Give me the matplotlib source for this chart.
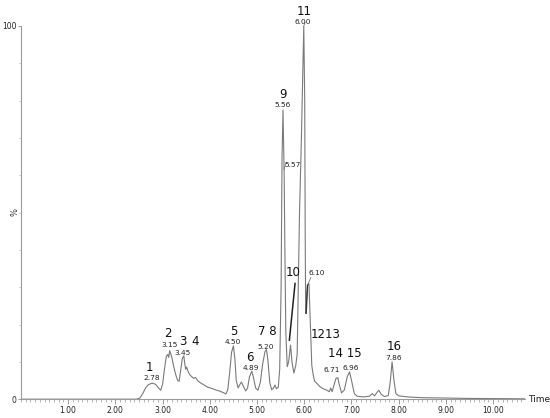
import matplotlib
matplotlib.use("Agg")
import matplotlib.pyplot as plt
from matplotlib.ticker import MultipleLocator, FixedLocator

# Chromatogram trace (time in min, relative intensity %)
trace_time = [0.00, 2.45, 2.52, 2.58, 2.64, 2.70, 2.78, 2.85, 2.90, 2.96,
              3.00, 3.04, 3.08, 3.11, 3.13, 3.15, 3.17, 3.20, 3.24, 3.28,
              3.32, 3.35, 3.38, 3.42, 3.45, 3.47, 3.49, 3.51, 3.54, 3.58,
              3.62, 3.66, 3.70, 3.74, 3.80, 3.88, 3.96, 4.04, 4.12, 4.20,
              4.28, 4.34, 4.38, 4.42, 4.46, 4.50, 4.53, 4.56, 4.60, 4.64,
              4.67, 4.71, 4.76, 4.80, 4.84, 4.89, 4.93, 4.97, 5.02, 5.07,
              5.12, 5.17, 5.20, 5.23, 5.27, 5.31, 5.35, 5.38, 5.41, 5.45,
              5.48, 5.51, 5.53, 5.55, 5.56, 5.57, 5.575, 5.59, 5.61, 5.64,
              5.67, 5.71, 5.74, 5.78, 5.82, 5.85, 5.90, 5.94, 5.99, 6.01,
              6.02, 6.03, 6.07, 6.10, 6.13, 6.16, 6.19, 6.22, 6.27, 6.33,
              6.40, 6.48, 6.53, 6.56, 6.59, 6.63, 6.67, 6.71, 6.74, 6.79,
              6.85, 6.91, 6.96, 7.01, 7.06, 7.12, 7.25, 7.38, 7.44, 7.49,
              7.54, 7.58, 7.63, 7.70, 7.78, 7.82, 7.86, 7.90, 7.94, 8.00,
              8.20, 8.50, 9.00, 9.50, 10.68]
trace_pct = [0.0, 0.0, 0.3, 1.5, 3.0, 3.9, 4.3, 4.0, 3.2, 2.4,
             4.0, 8.0, 11.5, 12.0, 11.2, 13.0, 12.3, 11.0, 8.5, 6.5,
             5.0, 4.8, 7.5, 11.0, 11.6, 9.5, 8.0, 8.6, 7.4, 6.5,
             6.0, 5.6, 5.8, 5.0, 4.4, 3.8, 3.2, 2.9, 2.5, 2.2,
             1.8, 1.4, 2.5, 7.0, 12.5, 14.3, 11.0, 5.0, 3.0, 4.0,
             4.6, 3.5, 2.2, 3.0, 6.0, 7.5, 5.5, 3.0, 2.4, 4.5,
             9.5, 12.8, 13.3, 10.5, 4.5, 2.5, 3.0, 3.8, 2.8, 3.2,
             8.0, 30.0, 65.0, 77.5, 70.0, 61.5, 60.0, 40.0, 18.0, 8.7,
             10.0, 14.5, 10.0, 7.0, 9.0, 12.0, 50.0, 70.0, 100.0, 80.0,
             45.0, 23.0, 30.6, 31.0, 20.0, 9.0, 6.5, 4.8, 4.2, 3.4,
             2.8, 2.4, 2.0, 3.0, 2.0, 3.8, 5.5, 5.8, 4.0, 1.7,
             2.5, 6.0, 7.3, 4.5, 1.5, 0.8, 0.6, 0.8, 1.5, 0.9,
             1.8, 2.4, 1.3, 0.7, 1.0, 4.5, 10.0, 5.0, 1.5, 0.9,
             0.6, 0.4, 0.3, 0.2, 0.1]

# Peak number labels (text, x, y)
peak_names = ["1", "2", "3", "4", "5", "6", "7 8", "9", "11", "10", "1213", "14 15", "16"]
peak_name_x = [2.73, 3.11, 3.43, 3.69, 4.51, 4.85, 5.21, 5.55, 6.00, 5.76, 6.46, 6.85, 7.90]
peak_name_y = [8.6, 17.7, 15.5, 15.5, 18.2, 11.3, 18.2, 81.5, 103.8, 34.0, 17.2, 12.2, 14.0]

# Retention time labels
rt_labels = ["2.78", "3.15", "3.45", "4.50", "4.89", "5.20", "5.56", "5.57", "6.00", "6.10", "6.71", "6.96", "7.86"]
rt_x = [2.78, 3.14, 3.43, 4.49, 4.87, 5.19, 5.55, 5.76, 5.97, 6.27, 6.58, 6.99, 7.90]
rt_y = [5.6, 14.5, 12.3, 15.3, 8.3, 13.9, 78.8, 62.7, 101.1, 33.8, 7.8, 8.4, 11.1]

x_ticks = [1, 2, 3, 4, 5, 6, 7, 8, 9, 10]
x_tick_labels = ["1.00", "2.00", "3.00", "4.00", "5.00", "6.00", "7.00", "8.00", "9.00", "10.00"]

fig = plt.figure(figsize=(5.5, 4.18), dpi=100)
ax = fig.add_axes([0.038, 0.045, 0.917, 0.893])

line_col = "#7a7a7a"
ax.plot(trace_time, trace_pct, color=line_col, lw=0.8)

# darker annotation strokes
ax.plot([5.805, 5.685], [31.0, 15.8], color="#222222", lw=1.1)
ax.plot([6.04, 6.07], [23.0, 30.6], color="#333333", lw=1.0)
ax.plot([6.07, 6.14], [30.6, 32.6], color="#666666", lw=0.5)
ax.plot([5.57, 5.62], [61.5, 63.5], color="#666666", lw=0.5)
ax.plot([5.99, 6.02], [100, 101.0], color="#666666", lw=0.5, clip_on=False)

for t, x, y in zip(peak_names, peak_name_x, peak_name_y):
    ax.text(x, y, t, fontsize=8.5, ha="center", va="center", color="#111111", clip_on=False)
for t, x, y in zip(rt_labels, rt_x, rt_y):
    ax.text(x, y, t, fontsize=5.3, ha="center", va="center", color="#222222", clip_on=False)

ax.set_xlim(0, 10.68)
ax.set_ylim(0, 100)

for s in ["top", "right"]:
    ax.spines[s].set_visible(False)
for s in ["left", "bottom"]:
    ax.spines[s].set_color("#9a9a9a")
    ax.spines[s].set_linewidth(0.8)

ax.xaxis.set_major_locator(FixedLocator(x_ticks))
ax.set_xticklabels(x_tick_labels)
ax.xaxis.set_minor_locator(MultipleLocator(0.1))
ax.yaxis.set_major_locator(FixedLocator([0, 100]))
ax.yaxis.set_minor_locator(MultipleLocator(10))
ax.tick_params(axis="x", which="major", length=3.5, width=0.6, color="#8a8a8a",
               labelsize=5.5, pad=1.5, labelcolor="#222222")
ax.tick_params(axis="x", which="minor", length=2, width=0.5, color="#9a9a9a")
ax.tick_params(axis="y", which="major", length=2, width=0.6, color="#8a8a8a",
               labelsize=5.5, pad=1, labelcolor="#222222")
ax.tick_params(axis="y", which="minor", length=1.5, width=0.5, color="#b0b0b0")

ax.text(1.005, 0.0, "Time", transform=ax.transAxes, fontsize=6.5,
        ha="left", va="center", color="#222222")
fig.text(15 / 550, 1 - 212 / 418, "%", fontsize=6, rotation=90,
         ha="center", va="center", color="#333333")

fig.savefig("out.png", dpi=100)
